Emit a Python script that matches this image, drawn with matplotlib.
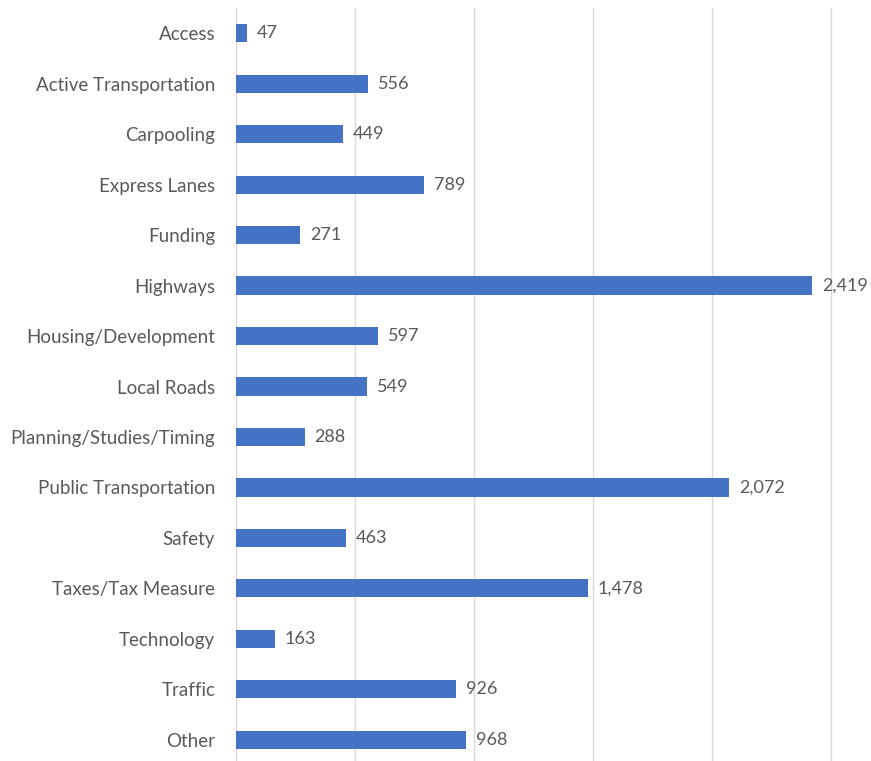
import matplotlib.pyplot as plt

# dados
categorias = ["Access", "Active Transportation", "Carpooling", "Express Lanes",
              "Funding", "Highways", "Housing/Development", "Local Roads",
              "Planning/Studies/Timing", "Public Transportation", "Safety",
              "Taxes/Tax Measure", "Technology", "Traffic", "Other"]
valores = [47, 556, 449, 789, 271, 2419, 597, 549, 288, 2072, 463, 1478, 163, 926, 968]

AZUL = "#4472C4"
CINZA_TEXTO = "#595959"
CINZA_GRADE = "#D9D9D9"

plt.rcParams["font.family"] = ["Lato", "DejaVu Sans"]

W, H = 871, 761
fig = plt.figure(figsize=(W / 100, H / 100), dpi=100)
esq = 236 / W
topo = 1 - 8 / H
base = -4 / H
ax = fig.add_axes([esq, base, 1 - esq, topo - base])

y = range(len(categorias))
ax.barh(y, valores, height=0.36, color=AZUL, zorder=3)

ax.set_xlim(0, 2668)
ax.set_ylim(len(categorias) - 0.5, -0.5)
ax.set_xticks([0, 500, 1000, 1500, 2000, 2500])
ax.set_xticklabels([])
ax.tick_params(axis="x", length=0)
ax.tick_params(axis="y", length=0, pad=15, labelsize=13.5, labelcolor=CINZA_TEXTO)
ax.set_yticks(list(y))
ax.set_yticklabels(categorias)
ax.grid(axis="x", color=CINZA_GRADE, linewidth=1, zorder=0)
for s in ax.spines.values():
    s.set_visible(False)

for i, v in enumerate(valores):
    ax.text(v + 42, i, f"{v:,}", va="center", ha="left", fontsize=13,
            color=CINZA_TEXTO)

fig.savefig("out.png", dpi=100)
